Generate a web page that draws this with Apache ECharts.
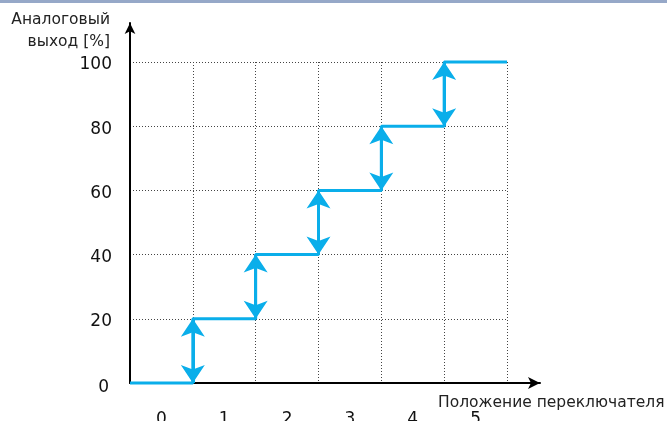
<!DOCTYPE html>
<html>
<head>
<meta charset="utf-8">
<script src="https://cdn.jsdelivr.net/npm/echarts@6/dist/echarts.min.js"></script>
<style>
html,body{margin:0;padding:0;background:#fff;}
#chart{width:667px;height:421px;}
</style>
</head>
<body>
<div id="chart"></div>
<script>
// ---- data ----
const positionLabels = ['0', '1', '2', '3', '4', '5'];
const outputLevels = [0, 20, 40, 60, 80, 100];
const yTicks = [0, 20, 40, 60, 80, 100];
const yAxisTitle = 'Аналоговый\nвыход [%]';
const xAxisTitle = 'Положение переключателя';

// ---- derived series data ----
const stepPoints = [];
outputLevels.forEach((v, i) => { stepPoints.push([i, v]); stepPoints.push([i + 1, v]); });
const arrowSegments = [];
for (let i = 1; i < outputLevels.length; i++) {
  arrowSegments.push({ coords: [[i, outputLevels[i - 1]], [i, outputLevels[i]]] });
}

const FONT = 'DejaVu Sans';
const BLUE = '#0aaeea';
const GRIDC = '#444';

const chart = echarts.init(document.getElementById('chart'), null, { renderer: 'canvas' });
chart.setOption({
  animation: false,
  backgroundColor: '#fff',
  textStyle: { fontFamily: FONT },
  graphic: [{
    type: 'rect', left: 0, top: 0, shape: { width: 667, height: 3 },
    style: { fill: '#96a8c8' }, z: 100
  }],
  grid: [
    { left: 130, right: 160, top: 62, bottom: 38, containLabel: false, outerBoundsMode: 'none' },
    { left: 130, right: 127, top: 23, bottom: 38, containLabel: false, outerBoundsMode: 'none' }
  ],
  xAxis: [
    {
      type: 'value', gridIndex: 0, min: 0, max: positionLabels.length, interval: 1,
      axisLine: { show: false }, axisTick: { show: false }, axisLabel: { show: false },
      splitLine: { show: true, lineStyle: { color: GRIDC, width: 1, type: [1, 2] } }
    },
    {
      type: 'category', gridIndex: 0, data: positionLabels, boundaryGap: true, position: 'bottom',
      axisLine: { show: false }, axisTick: { show: false }, splitLine: { show: false },
      axisLabel: { show: true, margin: 28, color: '#111', fontSize: 17, fontFamily: FONT }
    },
    {
      type: 'value', gridIndex: 1, min: 0, max: 1,
      axisLine: { show: true, symbol: ['none', 'arrow'], symbolSize: [9, 12], lineStyle: { color: '#000', width: 2 } },
      axisTick: { show: false }, axisLabel: { show: false }, splitLine: { show: false },
      name: xAxisTitle, nameLocation: 'end', nameGap: -102,
      nameTextStyle: { align: 'left', verticalAlign: 'top', padding: [12, 0, 0, 0], color: '#222', fontSize: 15.5, fontFamily: FONT }
    }
  ],
  yAxis: [
    {
      type: 'value', gridIndex: 0, min: yTicks[0], max: yTicks[yTicks.length - 1], interval: yTicks[1] - yTicks[0],
      axisLine: { show: false }, axisTick: { show: false },
      axisLabel: {
        show: true, margin: 18, color: '#111', fontSize: 17, fontFamily: FONT, padding: [6, 0, 0, 0],
        formatter: v => v === 0 ? '{z|0}' : String(v),
        rich: { z: { fontSize: 17, fontFamily: FONT, color: '#111', padding: [4, 3, 0, 0] } }
      },
      splitLine: { show: true, lineStyle: { color: GRIDC, width: 1, type: [1, 2] } }
    },
    {
      type: 'value', gridIndex: 1, min: 0, max: 1,
      axisLine: { show: true, symbol: ['none', 'arrow'], symbolSize: [8, 11], lineStyle: { color: '#000', width: 2 } },
      axisTick: { show: false }, axisLabel: { show: false }, splitLine: { show: false },
      name: yAxisTitle, nameLocation: 'end', nameGap: 14,
      nameTextStyle: { align: 'right', verticalAlign: 'top', padding: [0, 20, 0, 0], lineHeight: 22, color: '#222', fontSize: 15.5, fontFamily: FONT }
    }
  ],
  series: [
    {
      type: 'line', xAxisIndex: 0, yAxisIndex: 0, data: stepPoints, showSymbol: false, symbol: 'none',
      clip: false, lineStyle: { color: BLUE, width: 3 }, z: 5
    },
    {
      type: 'lines', coordinateSystem: 'cartesian2d', xAxisIndex: 0, yAxisIndex: 0,
      data: arrowSegments, symbol: ['arrow', 'arrow'], symbolSize: 18,
      lineStyle: { color: BLUE, width: 3, opacity: 1 }, z: 6
    }
  ]
});
</script>
</body>
</html>
